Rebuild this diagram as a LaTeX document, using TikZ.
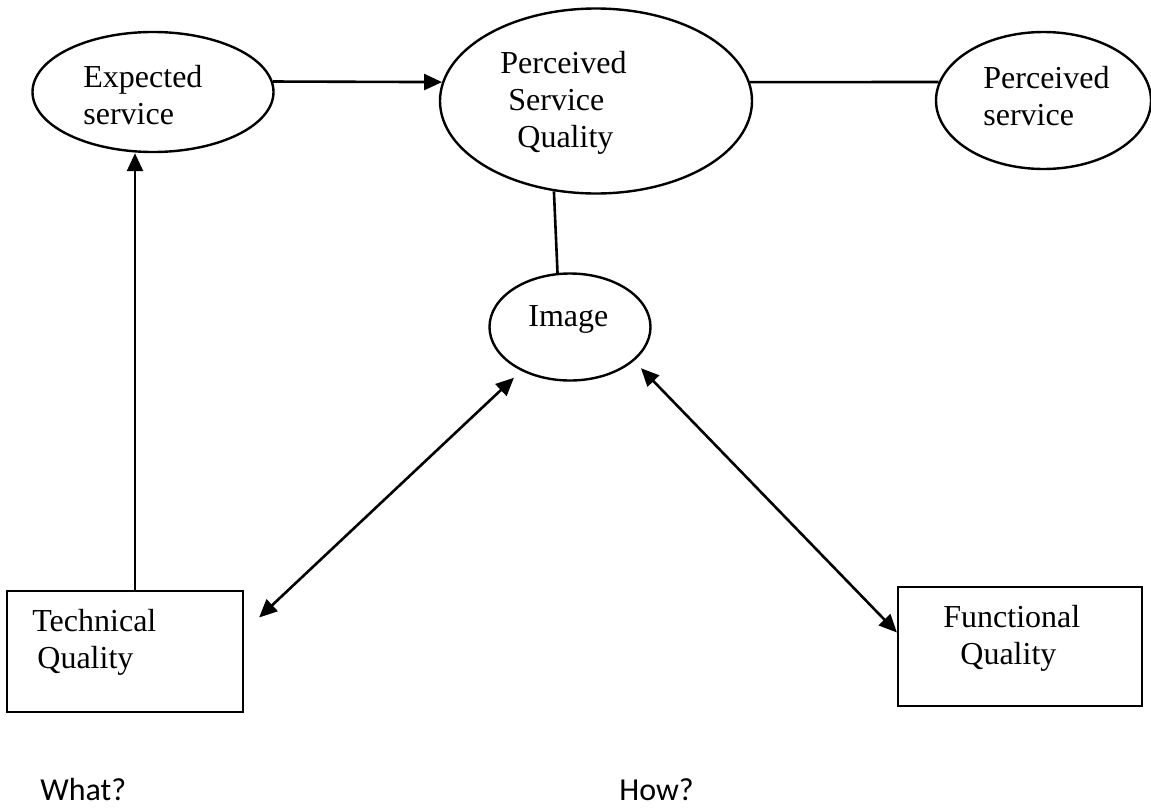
\documentclass[tikz,border=0pt]{standalone}
\usepackage{fontspec}
\setmainfont{Liberation Serif}
\newfontfamily\notefont{Carlito}
\usepackage{tikz}
\usetikzlibrary{shapes.geometric,arrows.meta}
\tikzset{oval/.style={draw,ellipse,inner sep=0pt,line width=1.2pt},
    box/.style={draw,rectangle,inner sep=0pt,line width=1.1pt},
    lbl/.style={anchor=north west,inner sep=0pt,align=left,font=\fontsize{16}{18.5}\selectfont},
    note/.style={anchor=base west,inner sep=0pt,font=\notefont\fontsize{16}{19}\selectfont},
    arr/.style={line width=1.3pt,-{Triangle[length=9pt,width=8pt]}},
    dbl/.style={line width=1.3pt,{Triangle[length=9pt,width=8pt]}-{Triangle[length=9pt,width=8pt]}},
    link/.style={line width=1.3pt}}
\begin{document}
\begin{tikzpicture}[x=0.5pt,y=-0.5pt]
\useasboundingbox (0,0) rectangle (1151,809);
% shapes
\node[oval,minimum width=120.5pt,minimum height=60pt] (exp) at (153,92) {};
\node[oval,minimum width=156pt,minimum height=92.5pt] (psq) at (596,101) {};
\node[oval,minimum width=107.5pt,minimum height=68.5pt] (per) at (1043.5,100.5) {};
\node[oval,minimum width=80.5pt,minimum height=53.5pt] (img) at (570,327) {};
\node[box,minimum width=118pt,minimum height=60.5pt] (tech) at (125,651.5) {};
\node[box,minimum width=122pt,minimum height=59.5pt] (func) at (1020,646.5) {};
% texts
\node[lbl] (exp-txt) at (83,65) {Expected\\service};
\node[lbl] (psq-txt) at (500,51) {Perceived\\\hspace{4pt}Service\\\hspace{8.5pt}Quality};
\node[lbl] (per-txt) at (983,66) {Perceived\\service};
\node[lbl] (img-txt) at (528,305) {Image};
\node[lbl] (tech-txt) at (32,609) {Technical\\\hspace{2.5pt}Quality};
\node[lbl] (func-txt) at (943,605) {Functional\\\hspace{8.5pt}Quality};
\node[note] (what) at (40,800) {What?};
\node[note] (how) at (619,800) {How?};
% connectors
\draw[arr] (exp.5) -- (psq.173);
\draw[link] (psq.7) -- (per.170);
\draw[link] (psq.245) -- (img.103);
\draw[arr] ([xshift=5pt]tech.north) -- ([xshift=5pt]tech.north |- exp.south);
\draw[dbl,shorten <=5pt] (img.222) -- ([shift={(15,-34)}]tech.east);
\draw[dbl,shorten <=5pt] (img.-28) -- ([shift={(0,-14)}]func.west);
\end{tikzpicture}
\end{document}
